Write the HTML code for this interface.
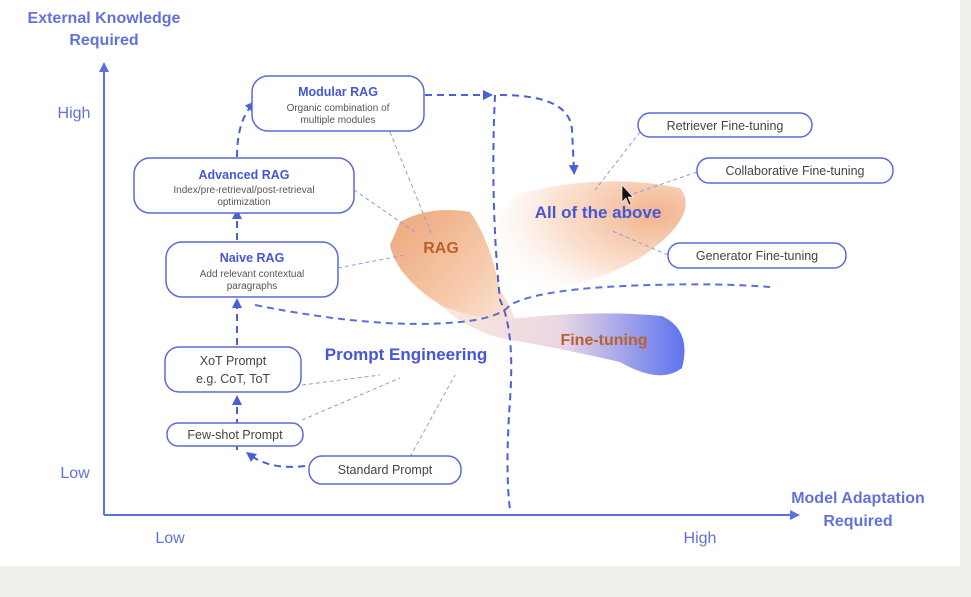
<!DOCTYPE html>
<html><head><meta charset="utf-8"><style>
html,body{margin:0;padding:0;background:#efefeb;}
svg{display:block;font-family:"Liberation Sans",sans-serif;}
.bt{fill:#4557d6;font-weight:bold;font-size:12.5px;text-anchor:middle}
.st{fill:#555;font-size:10px;text-anchor:middle}
.box{fill:#fff;stroke:#5b6ad9;stroke-width:1.5}
.gt{fill:#444;font-size:12.5px;text-anchor:middle}
.dl{stroke:#8f9be6;stroke-width:1;stroke-dasharray:4 3;fill:none}
.dk{stroke:#4a5fd8;stroke-width:2;stroke-dasharray:7 5;fill:none}
.ax{fill:#6272d8;font-weight:bold;font-size:16px;text-anchor:middle}
</style></head><body>
<svg width="971" height="597" viewBox="0 0 971 597">
<defs>
<radialGradient id="ga" cx="0.85" cy="0.3" r="0.95">
<stop offset="0" stop-color="#f2b48e"/><stop offset="0.55" stop-color="#fbe3d3"/><stop offset="1" stop-color="#fff" stop-opacity="0"/></radialGradient>
<linearGradient id="gr" x1="0" y1="0" x2="1" y2="1">
<stop offset="0" stop-color="#eda679"/><stop offset="0.55" stop-color="#f6c9aa"/><stop offset="1" stop-color="#fdeee4"/></linearGradient>
<linearGradient id="gf" x1="0" y1="0" x2="1" y2="0">
<stop offset="0" stop-color="#fde8da"/><stop offset="0.5" stop-color="#e9d6e4"/><stop offset="1" stop-color="#5d73ee"/></linearGradient>
<marker id="ah" viewBox="0 0 10 10" refX="5" refY="5" markerWidth="5" markerHeight="5" orient="auto"><path d="M0 0L10 5L0 10z" fill="#4a5fd8"/></marker>
</defs>
<rect x="0" y="0" width="960" height="566" fill="#fff"/>
<path d="M515 195 Q600 172 680 188 Q702 215 640 258 Q580 292 520 292 Q470 270 495 225Z" fill="url(#ga)"/>
<path d="M400 222 Q430 205 470 212 Q490 240 500 290 Q525 330 515 342 Q470 325 430 298 Q395 272 390 245Z" fill="url(#gr)"/>
<path d="M440 305 Q480 322 520 318 Q600 310 662 316 Q692 330 682 368 Q660 385 620 362 Q560 348 500 338 Q465 328 440 305Z" fill="url(#gf)"/>
<line x1="104" y1="515" x2="104" y2="66" stroke="#5a6fe0" stroke-width="2"/>
<path d="M99 72L104 62L109 72Z" fill="#5a6fe0"/>
<line x1="104" y1="515" x2="795" y2="515" stroke="#5a6fe0" stroke-width="2"/>
<path d="M790 510L800 515L790 520Z" fill="#5a6fe0"/>
<text class="ax" x="104" y="23">External Knowledge</text>
<text class="ax" x="104" y="45">Required</text>
<text class="ax" x="858" y="503">Model Adaptation</text>
<text class="ax" x="858" y="526">Required</text>
<text class="ax" x="74" y="118" style="font-weight:normal">High</text>
<text class="ax" x="75" y="478" style="font-weight:normal">Low</text>
<text class="ax" x="170" y="543" style="font-weight:normal">Low</text>
<text class="ax" x="700" y="543" style="font-weight:normal">High</text>
<path class="dk" d="M495 95 Q490 200 500 300 Q515 330 510 400 Q505 470 510 510"/>
<path class="dk" d="M255 305 Q380 330 460 322 Q500 318 510 305 Q540 288 650 285 Q720 283 770 287" stroke-opacity="0.9"/>
<path class="dk" d="M237 450 L237 400" marker-end="url(#ah)"/>
<path class="dk" d="M237 345 L237 303" marker-end="url(#ah)"/>
<path class="dk" d="M237 240 L237 214" marker-end="url(#ah)"/>
<path class="dk" d="M237 157 Q237 122 252 105" marker-end="url(#ah)"/>
<path class="dk" d="M425 95 L488 95" marker-end="url(#ah)"/>
<path class="dk" d="M500 95 Q570 95 572 130 L574 170" marker-end="url(#ah)"/>
<path class="dk" d="M305 466 Q270 470 250 455" marker-end="url(#ah)"/>
<path class="dl" d="M390 132 L432 235"/>
<path class="dl" d="M354 190 L415 232"/>
<path class="dl" d="M338 268 L405 255"/>
<path class="dl" d="M302 385 L380 375"/>
<path class="dl" d="M302 420 L400 378"/>
<path class="dl" d="M410 457 L455 375"/>
<path class="dl" d="M640 132 L595 190"/>
<path class="dl" d="M697 172 L630 195"/>
<path class="dl" d="M668 255 L610 230"/>
<rect class="box" x="252" y="76" width="172" height="55" rx="16"/>
<text class="bt" x="338" y="96">Modular RAG</text>
<text class="st" x="338" y="111">Organic combination of</text>
<text class="st" x="338" y="123">multiple modules</text>
<rect class="box" x="134" y="158" width="220" height="55" rx="16"/>
<text class="bt" x="244" y="179">Advanced RAG</text>
<text class="st" x="244" y="193">Index/pre-retrieval/post-retrieval</text>
<text class="st" x="244" y="205">optimization</text>
<rect class="box" x="166" y="242" width="172" height="55" rx="16"/>
<text class="bt" x="252" y="262">Naive RAG</text>
<text class="st" x="252" y="277">Add relevant contextual</text>
<text class="st" x="252" y="289">paragraphs</text>
<rect class="box" x="165" y="347" width="136" height="45" rx="14"/>
<text class="gt" x="233" y="365">XoT Prompt</text>
<text class="gt" x="233" y="383">e.g. CoT, ToT</text>
<rect class="box" x="167" y="423" width="136" height="23" rx="11"/>
<text class="gt" x="235" y="439">Few-shot Prompt</text>
<rect class="box" x="309" y="456" width="152" height="28" rx="13"/>
<text class="gt" x="385" y="474">Standard Prompt</text>
<rect class="box" x="638" y="113" width="174" height="24" rx="12"/>
<text class="gt" x="725" y="130">Retriever Fine-tuning</text>
<rect class="box" x="697" y="158" width="196" height="25" rx="12"/>
<text class="gt" x="795" y="175">Collaborative Fine-tuning</text>
<rect class="box" x="668" y="243" width="178" height="25" rx="12"/>
<text class="gt" x="757" y="260">Generator Fine-tuning</text>
<text x="406" y="360" style="fill:#4557d6;font-weight:bold;font-size:17px;text-anchor:middle">Prompt Engineering</text>
<text x="441" y="253" style="fill:#b9602f;font-weight:bold;font-size:16px;text-anchor:middle">RAG</text>
<text x="604" y="345" style="fill:#b9602f;font-weight:bold;font-size:16px;text-anchor:middle">Fine-tuning</text>
<text x="598" y="218" style="fill:#4557d6;font-weight:bold;font-size:17px;text-anchor:middle">All of the above</text>
<path d="M622 185 L622 202 L626 198 L629 205 L631 204 L628 197 L633 197 Z" fill="#111" stroke="#fff" stroke-width="0.6"/>
</svg>
</body></html>
